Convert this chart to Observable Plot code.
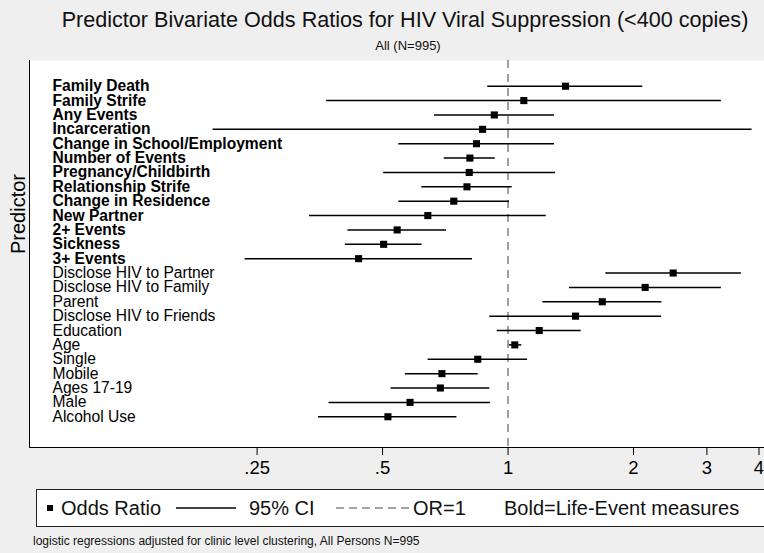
<!DOCTYPE html>
<html><head><meta charset="utf-8">
<script src="https://cdn.jsdelivr.net/npm/d3@7"></script>
<script src="https://cdn.jsdelivr.net/npm/@observablehq/plot@0.6"></script>
<style>
body{margin:0;background:#efefef;font-family:"Liberation Sans",Arial,Helvetica,sans-serif;}
#wrap{position:relative;width:764px;height:553px;overflow:hidden;background:#efefef}
#chart{position:absolute;left:0;top:0}
.t{position:absolute;white-space:nowrap;color:#111}
#title{left:0;width:810px;text-align:center;top:7px;font-size:21.6px;line-height:26px}
#sub{left:0;width:816px;text-align:center;top:38px;font-size:13px;line-height:16px}
#legend{left:36px;top:489px;width:760px;height:38px;background:#fff;border:1px solid #222;box-sizing:border-box}
#caption{left:33px;top:534px;font-size:12px;line-height:15px}
.lg{position:absolute;white-space:nowrap;font-size:20px;line-height:24px;top:6px;color:#111}
.sq{position:absolute;left:10px;top:15px;width:6px;height:6px;background:#000}
.sym{position:absolute;top:10px}
</style></head><body>
<div id="wrap">
<div id="chart"></div>
<div class="t" id="title">Predictor Bivariate Odds Ratios for HIV Viral Suppression (&lt;400 copies)</div>
<div class="t" id="sub">All (N=995)</div>
<div class="t" id="legend">
  <div class="sq"></div><div class="lg" style="left:24px">Odds Ratio</div>
  <svg class="sym" style="left:139px" width="60" height="16"><line x1="0" x2="60" y1="8" y2="8" stroke="#000" stroke-width="1.5"/></svg>
  <div class="lg" style="left:212px">95% CI</div>
  <svg class="sym" style="left:299px" width="73" height="16"><line x1="0" x2="73" y1="8" y2="8" stroke="#888" stroke-width="1.5" stroke-dasharray="8,5"/></svg>
  <div class="lg" style="left:376px">OR=1</div>
  <div class="lg" style="left:467px">Bold=Life-Event measures</div>
</div>
<div class="t" id="caption">logistic regressions adjusted for clinic level clustering, All Persons N=995</div>
</div>
<script>
const lifeEvents = ["Family Death","Family Strife","Any Events","Incarceration","Change in School/Employment","Number of Events","Pregnancy/Childbirth","Relationship Strife","Change in Residence","New Partner","2+ Events","Sickness","3+ Events"];
const otherPredictors = ["Disclose HIV to Partner","Disclose HIV to Family","Parent","Disclose HIV to Friends","Education","Age","Single","Mobile","Ages 17-19","Male","Alcohol Use"];
const oddsRatio = [1.374,1.091,0.927,0.869,0.840,0.810,0.807,0.797,0.741,0.642,0.542,0.503,0.438, 2.49,2.133,1.683,1.452,1.188,1.038,0.846,0.694,0.688,0.582,0.515];
const ciLow     = [0.894,0.367,0.666,0.196,0.547,0.703,0.503,0.621,0.547,0.334,0.413,0.407,0.234, 1.716,1.404,1.212,0.904,0.942,1.008,0.643,0.567,0.524,0.372,0.351];
const ciHigh    = [2.105,3.25,1.293,3.85,1.293,0.932,1.300,1.023,1.008,1.235,0.712,0.622,0.822, 3.63,3.25,2.339,2.334,1.498,1.079,1.114,0.848,0.904,0.908,0.754];
const xTicks = [0.25,0.5,1,2,3,4];
const xTickLabels = [".25",".5","1","2","3","4"];
const refOR = [1];

const predictors = lifeEvents.concat(otherPredictors);
const rows = predictors.map((p,i)=>({predictor:p,row:i,or:oddsRatio[i],lo:ciLow[i],hi:ciHigh[i],bold:i<lifeEvents.length}));
const font = "Liberation Sans, Arial, Helvetica, sans-serif";

const chart = Plot.plot({
  width:764, height:553, marginTop:60, marginBottom:106, marginLeft:29, marginRight:0,
  style:{background:"transparent", fontFamily:font, color:"#000", overflow:"visible"},
  x:{type:"log", domain:[0.0711,4.124]},
  y:{type:"linear", domain:[-1.79,25.14], reverse:true, axis:null},
  marks:[
    Plot.frame({fill:"white", stroke:"none"}),
    Plot.frame({anchor:"left", stroke:"#000", strokeWidth:1}),
    Plot.frame({anchor:"bottom", stroke:"#000", strokeWidth:1}),
    Plot.ruleX(refOR, {stroke:"#808080", strokeWidth:1.5, strokeDasharray:"8,6"}),
    Plot.ruleY(rows, {y:"row", x1:"lo", x2:"hi", stroke:"#000", strokeWidth:1.5}),
    Plot.dot(rows, {x:"or", y:"row", symbol:"square", r:4, fill:"#000", stroke:"none"}),
    Plot.text(rows.filter(d=>d.bold), {y:"row", text:"predictor", frameAnchor:"left", dx:23, textAnchor:"start", fontWeight:"bold", fontSize:15.6, fill:"#000"}),
    Plot.text(rows.filter(d=>!d.bold), {y:"row", text:"predictor", frameAnchor:"left", dx:23, textAnchor:"start", fontSize:15.6, fill:"#000"}),
    Plot.axisX({ticks:xTicks, tickFormat:d=>xTickLabels[xTicks.indexOf(d)], tickSize:8, tickPadding:5, fontSize:18.5, label:null, stroke:"#000", fill:"#000"}),
    Plot.text(["Predictor"], {frameAnchor:"left", dx:-11, rotate:-90, fontSize:20, fill:"#000"})
  ]
});
document.getElementById("chart").appendChild(chart);
</script>
</body></html>
